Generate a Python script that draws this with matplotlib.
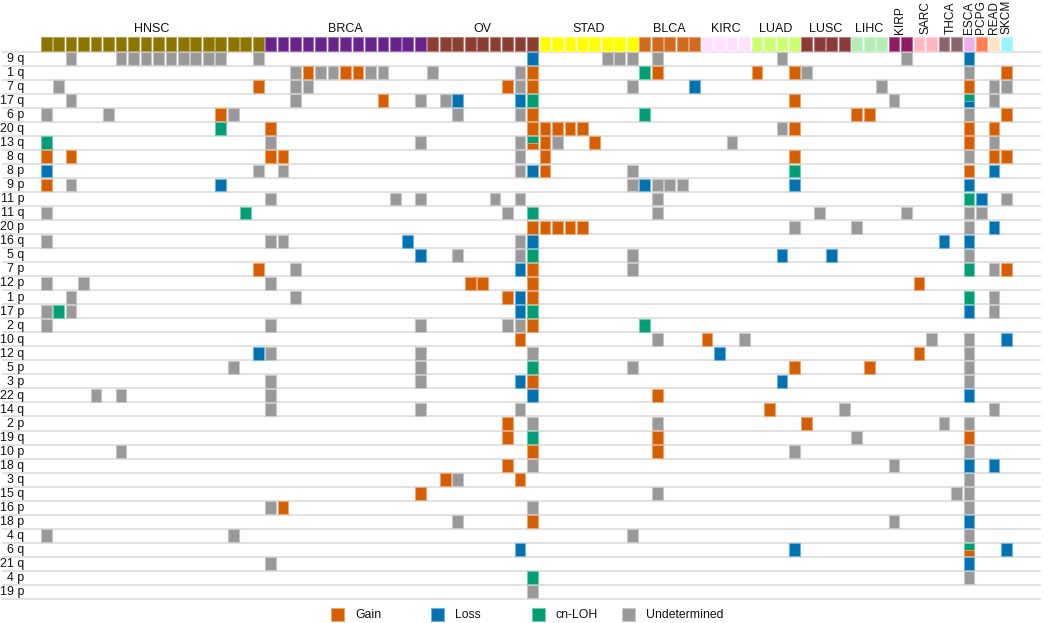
import matplotlib
matplotlib.use("Agg")
import matplotlib.pyplot as plt
from matplotlib.patches import Rectangle
from matplotlib.colors import to_rgb

plt.rcParams['font.family'] = ['Liberation Sans', 'DejaVu Sans']

# ---------------- data ----------------
arms = ["9 q", "1 q", "7 q", "17 q", "6 p", "20 q", "13 q", "8 q", "8 p", "9 p",
        "11 p", "11 q", "20 p", "16 q", "5 q", "7 p", "12 p", "1 p", "17 p", "2 q",
        "10 q", "12 q", "5 p", "3 p", "22 q", "14 q", "2 p", "19 q", "10 p", "18 q",
        "3 q", "15 q", "16 p", "18 p", "4 q", "6 q", "21 q", "4 p", "19 p"]

cancer_types = ["HNSC", "BRCA", "OV", "STAD", "BLCA", "KIRC", "LUAD", "LUSC", "LIHC",
                "KIRP", "SARC", "THCA", "ESCA", "PCPG", "READ", "SKCM"]
type_counts = [18, 13, 9, 8, 5, 4, 4, 4, 3, 2, 2, 2, 1, 1, 1, 1]
type_colors = ["#8B7500", "#68228B", "#8B3E2F", "#FFFF00", "#D2691E", "#FFE1FF",
               "#CAFF70", "#8B3A3A", "#B4EEB4", "#8B1C62", "#FFB6C1", "#8B636C",
               "#EEAEEE", "#FF7F50", "#FFE4C4", "#98F5FF"]
rotated_types = ["KIRP", "SARC", "THCA", "ESCA", "PCPG", "READ", "SKCM"]

call_codes = ["G", "L", "C", "U"]
call_labels = ["Gain", "Loss", "cn-LOH", "Undetermined"]
call_colors = ["#D55E00", "#0072B2", "#009E73", "#999999"]

# per arm: "<sample index><call>" ; two letters = split cell (top, bottom)
arm_calls = [
    "2U 6U 7U 8U 9U 10U 11U 12U 13U 14U 17U 39L 45U 46U 47U 49U 59U 69U 74L",
    "20U 21G 22U 23U 24G 25G 26U 27U 31U 38U 39G 48C 49G 57G 60G 61U 74U 77G",
    "1U 17G 20U 21U 37G 38U 39G 47U 52L 67U 74G 76U 77U",
    "2U 20U 27G 30U 32U 33L 38L 39C 60G 68U 74CL 76U",
    "0U 5U 14G 15U 33U 38U 39G 48C 65G 66G 74U 77G",
    "14C 18G 39G 40G 41G 42G 43G 59U 60G 74G 76G",
    "0C 18U 30U 38U 39CG 40G 41U 44G 55U 74G 76U",
    "0G 2G 18G 19G 38U 40G 60G 74U 76G 77G",
    "0L 17U 19U 38U 39L 40G 47U 60C 74G 76L",
    "0G 2U 14L 47U 48L 49U 50U 51U 60L 74L",
    "18U 28U 30U 36U 38U 49U 74C 75L 77U",
    "0U 16C 37U 39C 49U 62U 69U 74U 75U",
    "39G 40G 41G 42G 43G 60U 65U 74U 76L",
    "0U 18U 19U 29L 38U 39L 72L 74L",
    "30L 33U 38U 39C 47U 59L 63L 74U",
    "17G 20U 38L 39G 47U 74C 76U 77G",
    "0U 3U 18U 34G 35G 39G 70G",
    "2U 20U 37G 38L 39G 74C 76U",
    "0U 1C 2U 38L 39C 74L 76U",
    "0U 18U 30U 37U 38U 39G 48C",
    "38G 49U 53G 56U 71U 74U 77L",
    "17L 18U 30U 39U 54L 70G 74U",
    "15U 30U 39C 47U 60G 66G 74U",
    "18U 30U 38L 39G 59L 74U",
    "4U 6U 18U 39L 49G 74L",
    "18U 30U 38U 58G 64U 76U",
    "37G 39U 49U 61G 72U 74U",
    "37G 39C 49G 65U 74G",
    "6U 39G 49G 60U 74U",
    "37G 39U 68U 74L 76L",
    "32G 33U 38G 74U",
    "30G 49U 73U 74U",
    "18U 19G 39U 74U",
    "33U 39G 68U 74L",
    "0U 15U 47U 74U",
    "38L 60L 74CG 77L",
    "18U 74L",
    "39C 74U",
    "39U",
]

# ---------------- drawing ----------------
W, H = 1050, 623
color_of = dict(zip(call_codes, call_colors))


def lighter(c, f=0.45):
    r, g, b = to_rgb(c)
    return (r + (1 - r) * f, g + (1 - g) * f, b + (1 - b) * f)


fig = plt.figure(figsize=(W / 100, H / 100), dpi=100)
ax = fig.add_axes([0, 0, 1, 1])
ax.set_xlim(-3.264, 80.94)
ax.set_ylim(40.72, -3.685)
ax.axis('off')

n_arms = len(arms)
cw, ch = 0.86, 0.92

# separator lines
for r in range(n_arms + 1):
    ax.plot([-3.1, 80.2], [r, r], color="#dddddd", lw=1.2, zorder=1,
            solid_capstyle='butt')

# header
start = 0
for t, n, col in zip(cancer_types, type_counts, type_colors):
    for i in range(start, start + n):
        ax.add_patch(Rectangle((i + 0.01, -1.02), cw, 0.98, facecolor=col,
                               edgecolor=lighter(col, 0.35), lw=0.8, zorder=3))
    cx = start + (n - 1) / 2 + 0.44
    if t in rotated_types:
        ax.text(cx, -1.29, t, rotation=90, ha='center', va='bottom',
                fontsize=8.6, color='#111111')
    else:
        ax.text(cx, -1.62, t, ha='center', va='center', fontsize=9,
                color='#111111')
    start += n

# row labels
for r, a in enumerate(arms):
    ax.text(-1.30, r + 0.52, a, ha='right', va='center', fontsize=8.9,
            color='#111111')

# cells
for r, s in enumerate(arm_calls):
    for tok in s.split():
        j = 0
        while tok[j].isdigit():
            j += 1
        i = int(tok[:j])
        codes = tok[j:]
        y0 = r + 0.04
        if len(codes) == 1:
            c = color_of[codes]
            ax.add_patch(Rectangle((i + 0.01, y0), cw, ch, facecolor=c,
                                   edgecolor=lighter(c), lw=0.8, zorder=3))
        else:
            h = ch / 2
            for k, code in enumerate(codes):
                c = color_of[code]
                ax.add_patch(Rectangle((i + 0.01, y0 + k * h), cw, h,
                                       facecolor=c, edgecolor=lighter(c),
                                       lw=0.6, zorder=3))

# legend (keys laid out along the bottom)
legend_key_px = [331, 431, 532, 622]
key = 13
for lab, c, xk in zip(call_labels, call_colors, legend_key_px):
    fig.add_artist(Rectangle((xk / W, (H - 621) / H), key / W, key / H,
                             transform=fig.transFigure, facecolor=c,
                             edgecolor=lighter(c), lw=0.8))
    fig.text((xk + key + 11) / W, (H - 614.5) / H, lab, ha='left',
             va='center', fontsize=8.8, color='#111111')

fig.savefig("out.png", dpi=100)
